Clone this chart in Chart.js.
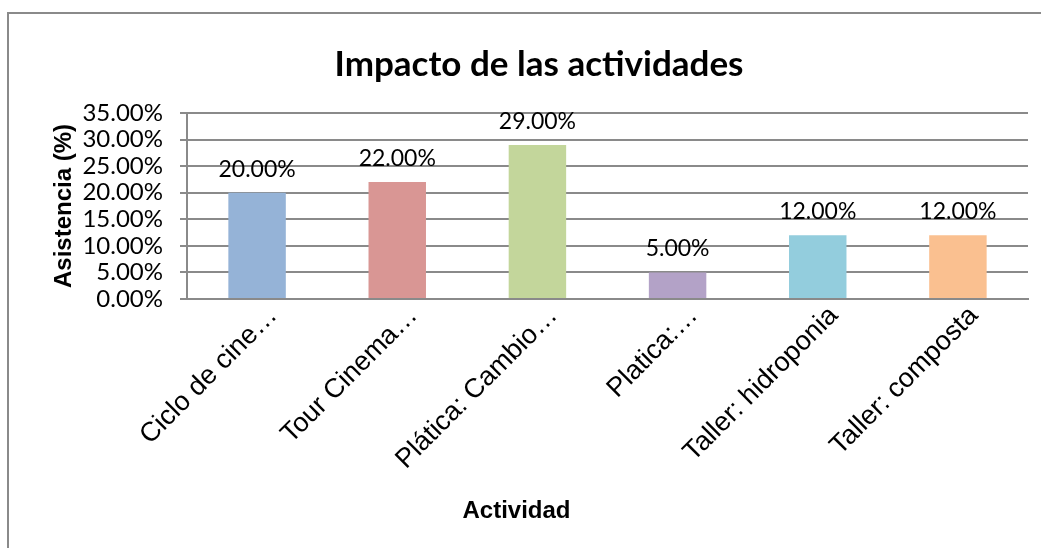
<!DOCTYPE html>
<html>
<head>
<meta charset="utf-8">
<script src="https://cdn.jsdelivr.net/npm/chart.js@4"></script>
<style>
  body { margin: 0; background: #fff; overflow: hidden; }
  #marco { position: absolute; left: 7px; top: 12px; width: 1100px; height: 600px; border: 2px solid #8a8a8a; }
  #lienzo { position: absolute; left: 0; top: 0; width: 1041px; height: 548px; }
</style>
</head>
<body>
<div id="marco"></div>
<div id="lienzo"><canvas id="graficoImpacto" width="1041" height="548"></canvas></div>
<script>
    // datos del gráfico
    const actividades = ['Ciclo de cine…', 'Tour Cinema…', 'Plática: Cambio…', 'Platica:…', 'Taller: hidroponia', 'Taller: composta'];
    const asistencia = [20, 22, 29, 5, 12, 12];
    const ejeMin = 0;
    const ejeMax = 35;
    const ejePaso = 5;

    const gris = '#8a8a8a';

    // etiquetas sobre cada barra y título del eje X
    const etiquetasPlugin = {
        id: 'etiquetas',
        afterDatasetsDraw(chart) {
            const ctx = chart.ctx;
            const meta = chart.getDatasetMeta(0);
            ctx.save();
            ctx.fillStyle = '#000';
            ctx.font = '23px Lato';
            ctx.textAlign = 'center';
            ctx.textBaseline = 'alphabetic';
            meta.data.forEach((barra, i) => {
                ctx.fillText(asistencia[i].toFixed(2) + '%', barra.x, barra.y - 16);
            });
            ctx.font = 'bold 24px "Liberation Sans"';
            ctx.textBaseline = 'middle';
            ctx.fillText('Actividad', chart.width / 2 - 4, 511);
            ctx.restore();
        }
    };

    const ctx = document.getElementById('graficoImpacto').getContext('2d');
    new Chart(ctx, {
        type: 'bar',
        data: {
            labels: actividades,
            datasets: [{
                label: 'Asistencia (%)',
                data: asistencia,
                backgroundColor: ['#95B3D7', '#D99694', '#C3D69B', '#B3A2C7', '#93CDDD', '#FAC090'],
                borderWidth: 0,
                barPercentage: 0.41,
                categoryPercentage: 1
            }]
        },
        options: {
            responsive: false,
            animation: false,
            layout: { padding: { top: 44, left: 50, right: 13, bottom: 0 } },
            plugins: {
                legend: { display: false },
                tooltip: { enabled: false },
                title: {
                    display: true,
                    text: 'Impacto de las actividades',
                    color: '#000',
                    font: { family: 'Lato', size: 35, weight: 'bold' },
                    lineHeight: 1.2,
                    padding: { top: 0, bottom: 27 }
                }
            },
            scales: {
                x: {
                    grid: { display: false, drawTicks: false },
                    border: { display: true, color: gris, width: 2 },
                    ticks: {
                        color: '#000',
                        font: { family: 'Liberation Sans', size: 27 },
                        minRotation: 45,
                        maxRotation: 45,
                        autoSkip: false,
                        padding: 1,
                        labelOffset: 16
                    },
                    afterFit: (scale) => { scale.height = 249; }
                },
                y: {
                    min: ejeMin,
                    max: ejeMax,
                    grid: { color: gris, lineWidth: 2, tickLength: 7 },
                    border: { display: true, color: gris, width: 2 },
                    ticks: {
                        stepSize: ejePaso,
                        autoSkip: false,
                        color: '#000',
                        font: { family: 'Lato', size: 24 },
                        padding: 17,
                        callback: v => v.toFixed(2) + '%'
                    },
                    title: {
                        display: true,
                        text: 'Asistencia (%)',
                        color: '#000',
                        font: { family: 'Liberation Sans', size: 24, weight: 'bold' },
                        padding: 0
                    },
                    afterFit: (scale) => { scale.width = 137; }
                }
            }
        },
        plugins: [etiquetasPlugin]
    });
</script>
</body>
</html>
